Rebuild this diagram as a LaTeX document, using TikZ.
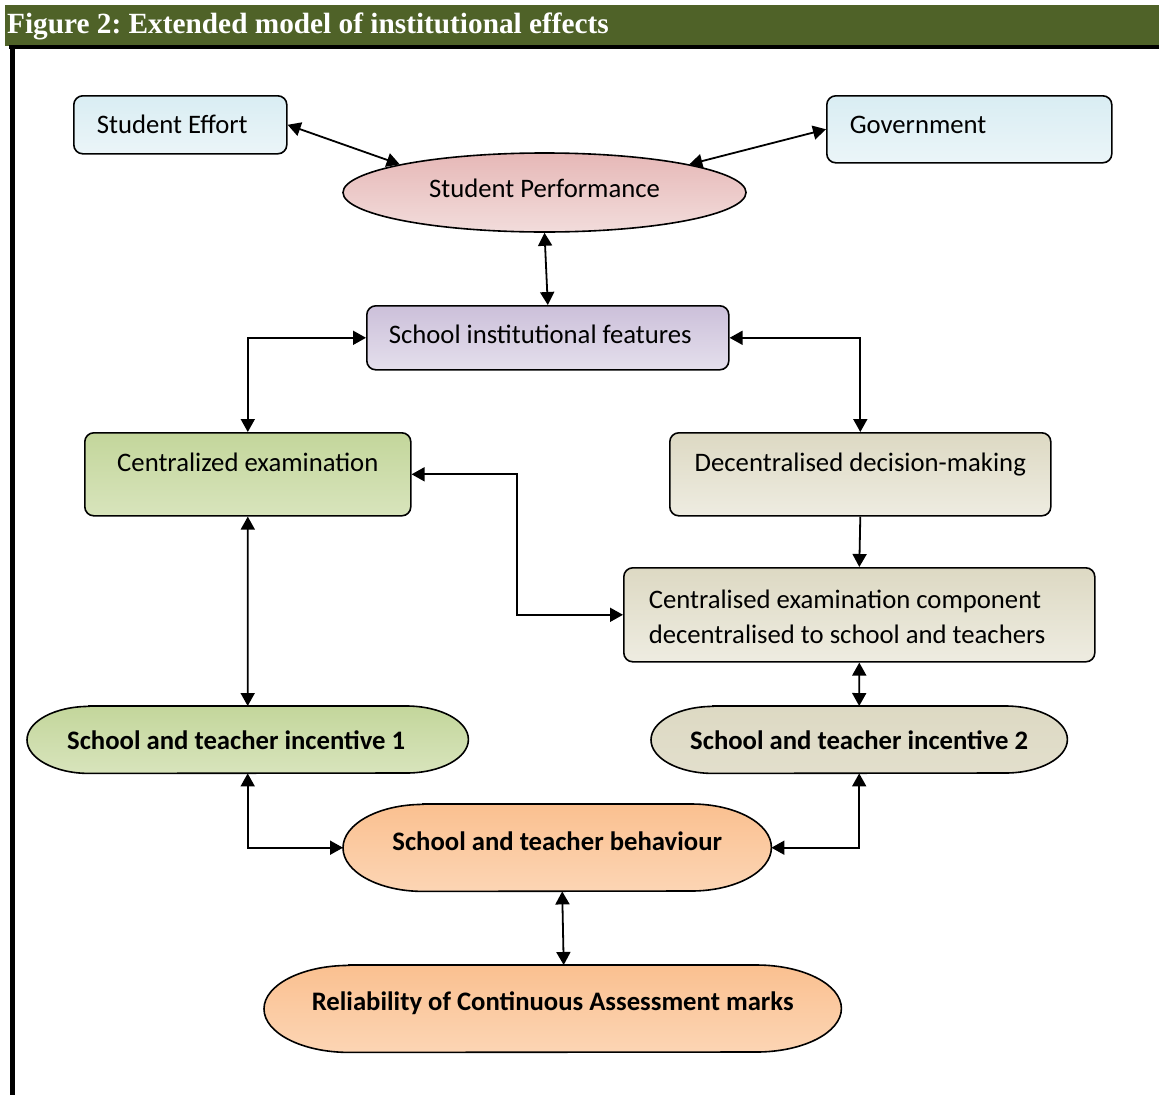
\documentclass[tikz,border=0pt]{standalone}
\usepackage{fontspec}
\setmainfont{Carlito}
\newfontfamily\dghdrfont{Liberation Serif}
\usetikzlibrary{arrows.meta,shapes.geometric}
\pgfdeclarelayer{dgback}
\pgfsetlayers{dgback,main}

\definecolor{hdrgreen}{HTML}{4F6228}
\definecolor{blueT}{HTML}{D9EDF3}
\definecolor{blueB}{HTML}{EBF5F8}
\definecolor{pinkT}{HTML}{E6B8B7}
\definecolor{pinkB}{HTML}{F2DCDB}
\definecolor{lilT}{HTML}{CCC0DA}
\definecolor{lilB}{HTML}{E4DFEC}
\definecolor{grnT}{HTML}{C3D69B}
\definecolor{grnB}{HTML}{D8E4BC}
\definecolor{tanT}{HTML}{DDD9C3}
\definecolor{tanB}{HTML}{EEECE1}
\definecolor{orgT}{HTML}{FAC090}
\definecolor{orgB}{HTML}{FCD5B4}

\newcommand\dgboxfont{\fontsize{26.7}{35}\selectfont}

\newcommand\dgstadium[5]{%
  \begin{pgfonlayer}{dgback}
  \path[draw=black, line width=1.6pt, top color=#4, bottom color=#5]
    ([xshift=#2pt]#1.north west) -- ([xshift=-#2pt]#1.north east)
    arc[start angle=90, end angle=-90, x radius=#2, y radius=#3]
    -- ([xshift=#2pt]#1.south west)
    arc[start angle=270, end angle=90, x radius=#2, y radius=#3] -- cycle;
  \end{pgfonlayer}}

\begin{document}
\frenchspacing
\begin{tikzpicture}[x=1pt, y=1pt,
  rbox/.style={draw=black, line width=1.6pt, rounded corners=9pt, inner ysep=0pt,
               font=\dgboxfont, anchor=north west},
  sbox/.style={inner ysep=0pt, font=\dgboxfont\bfseries, anchor=north west},
  bi/.style={line width=1.8pt, {Triangle[length=13pt,width=14pt]}-{Triangle[length=13pt,width=14pt]}},
  one/.style={line width=1.8pt, -{Triangle[length=13pt,width=14pt]}}]

\useasboundingbox (0,0) rectangle (1159,-1095);
\begin{pgfonlayer}{dgback}
\fill[white] (0,0) rectangle (1159,-1095);
\end{pgfonlayer}

% header
\fill[hdrgreen] (5,-5) rectangle (1159,-46);
\fill[black] (9,-45) rectangle (1159,-49);
\fill[black] (10,-45) rectangle (15,-1095);
\node[anchor=base west, inner sep=0pt, text=white,
      font=\dghdrfont\bfseries\fontsize{29.3}{33}\selectfont] (title) at (7,-33)
      {Figure 2: Extended model of institutional effects};

% rounded boxes
\node[rbox, top color=blueT, bottom color=blueB, inner xsep=23pt, text width=167pt,
      align=flush left, text height=38pt, text depth=20pt] (se) at (73,-95) {Student Effort};
\node[rbox, top color=blueT, bottom color=blueB, inner xsep=23pt, text width=239pt,
      align=flush left, text height=38pt, text depth=29pt] (gov) at (826,-95) {Government};
\node[ellipse, draw=black, line width=1.6pt, top color=pinkT, bottom color=pinkB,
      minimum width=403pt, minimum height=79pt, inner sep=0pt, font=\dgboxfont,
      text height=18pt, text depth=9pt] (sp) at (544.5,-192.5) {Student Performance};
\node[rbox, top color=lilT, bottom color=lilB, inner xsep=22pt, text width=318pt,
      align=flush left, text height=38pt, text depth=26pt] (sif) at (366,-305) {School institutional features};
\node[rbox, top color=grnT, bottom color=grnB, inner xsep=0pt, minimum width=326pt,
      text height=39pt, text depth=44pt] (ce) at (84,-432) {Centralized examination};
\node[rbox, top color=tanT, bottom color=tanB, inner xsep=0pt, minimum width=381pt,
      text height=39pt, text depth=44pt] (ddm) at (669,-432) {Decentralised decision-making};
\node[rbox, top color=tanT, bottom color=tanB, inner xsep=25pt, text width=421pt,
      align=flush left, text height=41pt, text depth=53pt] (cecd) at (623,-567)
      {Centralised examination component\\decentralised to school and teachers};

% stadium nodes
\node[sbox, inner xsep=40pt, text width=361pt, align=flush left, text height=43pt, text depth=24pt]
      (sti1) at (27,-706) {School and teacher incentive 1};
\node[sbox, inner xsep=0pt, minimum width=416pt, text height=43pt, text depth=24pt]
      (sti2) at (651,-706) {School and teacher incentive 2};
\node[sbox, inner xsep=0pt, minimum width=428pt, text height=46pt, text depth=41pt]
      (stb) at (343,-804) {School and teacher behaviour};
\node[sbox, inner xsep=0pt, minimum width=577pt, text height=45pt, text depth=42pt]
      (rel) at (264,-965) {Reliability of Continuous Assessment marks};

\dgstadium{sti1}{62}{33.5}{grnT}{grnB}
\dgstadium{sti2}{62}{33.5}{tanT}{tanT!70!tanB}
\dgstadium{stb}{80}{43.5}{orgT}{orgB}
\dgstadium{rel}{85}{43.5}{orgT}{orgB}

% connectors
\draw[bi] (se.east) -- (sp.169);
\draw[bi] (gov.west) -- (sp.11);
\draw[bi] (sp.south) -- (sif.north);
\draw[bi] (sif.west) -| (ce.north);
\draw[bi] (sif.east) -| (ddm.north);
\draw[bi] (ce.east) -| ([xshift=-106pt]cecd.west) -- (cecd.west);
\draw[one] (ddm.south) -- (cecd.north);
\draw[bi] (cecd.south) -- (sti2.north);
\draw[bi] (ce.south) -- (sti1.north);
\draw[bi] (sti1.south) |- (stb.west);
\draw[bi] (sti2.south) |- (stb.east);
\draw[bi] ([xshift=5pt]stb.south) -- ([xshift=11pt]rel.north);
\end{tikzpicture}
\end{document}
